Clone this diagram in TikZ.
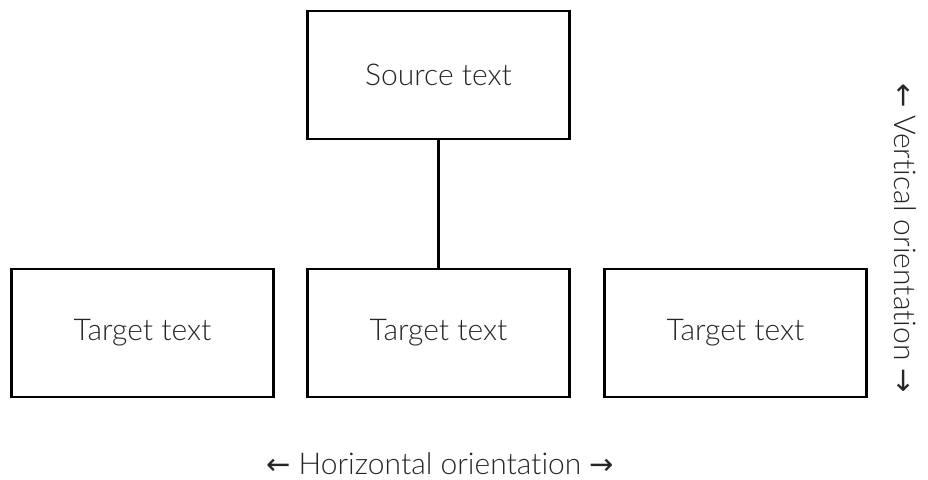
\documentclass[tikz,border=0pt]{standalone}
\usepackage{fontspec}
\setmainfont{Lato}[UprightFont=* Light,RawFeature={-liga;-dlig}]
\newfontfamily\arrowfont{DejaVu Sans}
\newcommand\arr[1]{{\arrowfont\fontsize{29}{34}\selectfont #1}}
\begin{document}
\begin{tikzpicture}[x=1pt,y=-1pt,
  box/.style={draw=black,line width=2.6pt,minimum width=262pt,minimum height=128pt,
    inner sep=0pt,font=\fontsize{30}{36}\selectfont,text=black!85},
  link/.style={draw=black,line width=2.6pt},
  lbl/.style={font=\fontsize{30}{36}\selectfont,text=black!85,inner sep=0pt}]
\useasboundingbox (0,0) rectangle (928,479);
\node[box] (src) at (438.5,75) {Source text};
\node[box] (t1) at (142.5,333) {Target text};
\node[box] (t2) at (438.5,333) {Target text};
\node[box] (t3) at (735.5,333) {Target text};
\draw[link] (src.south) -- (t2.north);
\node[lbl] (horiz) at (440,464) {\arr{←} Horizontal orientation \arr{→}};
\node[lbl,rotate=-90] (vert) at (905,238) {\arr{←} Vertical orientation \arr{→}};
\end{tikzpicture}
\end{document}
